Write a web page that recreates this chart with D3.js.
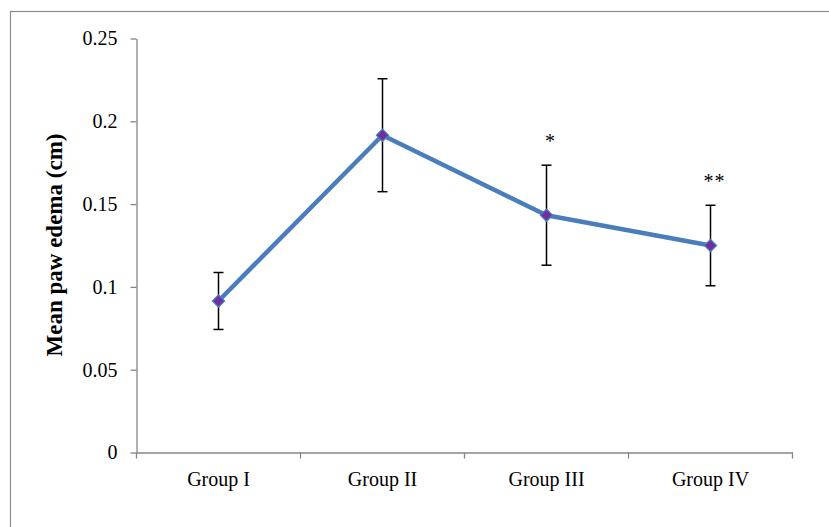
<!DOCTYPE html>
<html>
<head>
<meta charset="utf-8">
<script src="https://cdn.jsdelivr.net/npm/d3@7"></script>
<style>
  body { margin: 0; background: #fff; }
  svg { display: block; font-family: "Liberation Serif", "Times New Roman", serif; }
</style>
</head>
<body>
<svg id="chart" width="829" height="527"></svg>
<script>
// data
const groups = ["Group I", "Group II", "Group III", "Group IV"];
const means = [0.0915, 0.1916, 0.1433, 0.125];
const errors = [0.0172, 0.0341, 0.0302, 0.0243];
const signif = ["", "", "*", "**"];
const yTicks = [0, 0.05, 0.1, 0.15, 0.2, 0.25];
const yTickLabels = ["0", "0.05", "0.1", "0.15", "0.2", "0.25"];
const yTitle = "Mean paw edema (cm)";

const svg = d3.select("#chart");
const axisGray = "#868686";

// outer frame (only top and left edges fall inside the picture)
svg.append("rect")
  .attr("x", 10.5).attr("y", 11.5)
  .attr("width", 830).attr("height", 530)
  .attr("fill", "none")
  .attr("stroke", "#8c8c8c")
  .attr("stroke-width", 1.2);

const x = d3.scaleBand().domain(groups).range([136.5, 792.5]).padding(0);
const y = d3.scaleLinear().domain([0, 0.25]).range([452.5, 38.5]);
const cx = d => x(d) + x.bandwidth() / 2;

// y axis
const yAxis = svg.append("g")
  .attr("transform", "translate(136.5,0)")
  .call(d3.axisLeft(y)
    .tickValues(yTicks)
    .tickFormat((d, i) => yTickLabels[i])
    .tickSize(6)
    .tickSizeOuter(0)
    .tickPadding(13));
yAxis.selectAll("path, line").attr("stroke", axisGray).attr("stroke-width", 1.3);
yAxis.selectAll("text").attr("font-size", "20px").attr("fill", "#000")
  .attr("font-family", "Liberation Serif, Times New Roman, serif");

// x axis: labels centred in bands, ticks on band edges
const xAxis = svg.append("g")
  .attr("transform", "translate(0,452.5)")
  .call(d3.axisBottom(x).tickSize(0).tickSizeOuter(0).tickPadding(19));
xAxis.select("path").attr("stroke", axisGray).attr("stroke-width", 1.3);
xAxis.selectAll("text").attr("font-size", "20px").attr("fill", "#000")
  .attr("font-family", "Liberation Serif, Times New Roman, serif");

const edges = groups.map(g => x(g)).concat([x(groups[groups.length - 1]) + x.bandwidth()]);
xAxis.selectAll("line.edge")
  .data(edges)
  .join("line")
  .attr("class", "edge")
  .attr("x1", d => d).attr("x2", d => d)
  .attr("y1", 0).attr("y2", 6)
  .attr("stroke", axisGray)
  .attr("stroke-width", 1.3);

// y title
svg.append("text")
  .attr("transform", "translate(62,245) rotate(-90)")
  .attr("text-anchor", "middle")
  .attr("font-size", "23px")
  .attr("font-weight", "bold")
  .attr("fill", "#000")
  .text(yTitle);

// line
const line = d3.line()
  .x((d, i) => cx(groups[i]))
  .y(d => y(d));

svg.append("path")
  .datum(means)
  .attr("d", line)
  .attr("fill", "none")
  .attr("stroke", "#4a7ebb")
  .attr("stroke-width", 4.5)
  .attr("stroke-linejoin", "round");

// error bars
const eb = svg.append("g").attr("class", "errorbars");
groups.forEach((g, i) => {
  const xc = cx(g);
  const top = y(means[i] + errors[i]);
  const bot = y(means[i] - errors[i]);
  eb.append("line")
    .attr("x1", xc).attr("x2", xc).attr("y1", top).attr("y2", bot)
    .attr("stroke", "#000").attr("stroke-width", 1.5);
  [top, bot].forEach(yy => {
    eb.append("line")
      .attr("x1", xc - 5).attr("x2", xc + 5).attr("y1", yy).attr("y2", yy)
      .attr("stroke", "#000").attr("stroke-width", 1.5);
  });
});

// markers
svg.append("g")
  .selectAll("path")
  .data(means)
  .join("path")
  .attr("d", d3.symbol().type(d3.symbolDiamond2).size(95))
  .attr("transform", (d, i) => `translate(${cx(groups[i])},${y(d)})`)
  .attr("fill", "#7030a0")
  .attr("stroke", "#4a7ebb")
  .attr("stroke-width", 1.2);

// significance stars
svg.append("g")
  .selectAll("text")
  .data(signif)
  .join("text")
  .attr("x", (d, i) => cx(groups[i]) + 4)
  .attr("y", (d, i) => y(means[i] + errors[i]) - 17)
  .attr("text-anchor", "middle")
  .attr("font-size", "20px")
  .attr("letter-spacing", "1px")
  .attr("fill", "#000")
  .text(d => d);
</script>
</body>
</html>
